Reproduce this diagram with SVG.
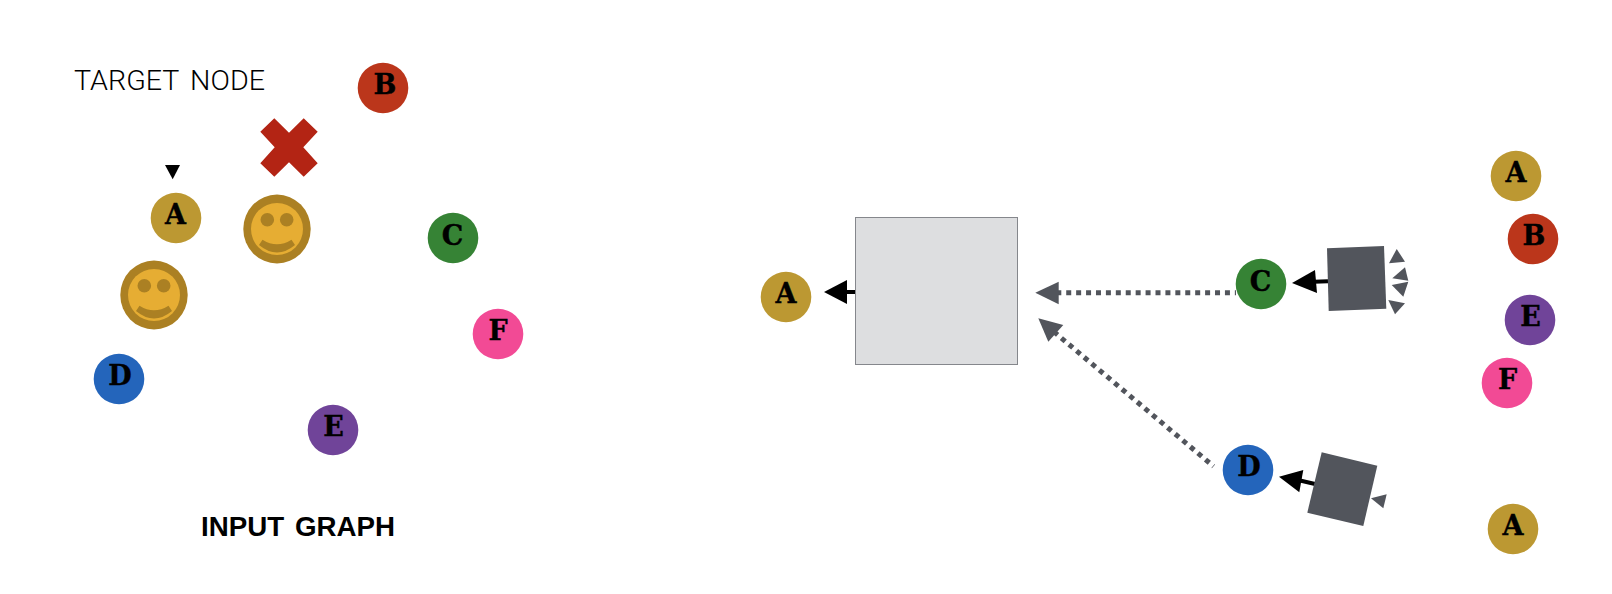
<svg xmlns="http://www.w3.org/2000/svg" width="1612" height="594" viewBox="0 0 1612 594">
<style>
.a{fill:#bc9832}.b{fill:#bb361b}.c{fill:#368335}.d{fill:#2465bb}.e{fill:#704499}.f{fill:#f24a95}
.l{font-family:"DejaVu Serif","Liberation Serif",serif;font-weight:700;font-size:27px;text-anchor:middle;fill:#000;stroke:#000;stroke-width:.4px}
.g{fill:#52555c}
.k{fill:#000}
.bar{stroke:#000;stroke-width:4;fill:none}
.dot{stroke:#52555c;stroke-width:5;stroke-dasharray:5 4.92;fill:none}
.so{fill:#ab8023}.si{fill:#e6ad33}
</style>
<defs>
<g id="smiley">
<ellipse class="so" rx="33.7" ry="34.5"/>
<circle class="si" r="26"/>
<circle class="so" cx="-9.7" cy="-9.2" r="6.8"/>
<circle class="so" cx="9.7" cy="-9.2" r="6.8"/>
<path class="so" d="M-14.5 10.7Q0 20 14.5 10.7L18 16Q0 31-18 16Z"/>
</g>
</defs>
<rect width="1612" height="594" fill="#fff"/>
<g id="labels">
<text x="74" y="90" font-family="Roboto,'Liberation Sans',sans-serif" font-weight="300" font-size="27" word-spacing="4" textLength="191" lengthAdjust="spacingAndGlyphs" fill="#000">TARGET NODE</text>
<text x="201" y="536" font-family="'Liberation Sans',Arial,sans-serif" font-weight="700" font-size="27" word-spacing="3" textLength="194" lengthAdjust="spacingAndGlyphs" fill="#000">INPUT GRAPH</text>
</g>
<g id="decor">
<polygon id="target-marker" class="k" points="165,165 180,165 172.7,179.3"/>
<polygon id="cross" fill="#b32414" points="260.3,131.7 274.3,118.3 289,132.7 303.7,118.3 317.7,131.7 303.3,147.3 317.7,163.3 303.7,176.7 289,162.3 274.3,176.7 260.3,163.3 274.7,147.3"/>
<use id="smiley-1" href="#smiley" x="277" y="229"/>
<use id="smiley-2" href="#smiley" x="154" y="295"/>
</g>
<g id="input-graph">
<g id="in-A"><circle class="a" cx="176" cy="218" r="25.3"/><text class="l" x="175.5" y="223.5">A</text></g>
<g id="in-B"><circle class="b" cx="383" cy="88" r="25.3"/><text class="l" x="385" y="93.5">B</text></g>
<g id="in-C"><circle class="c" cx="453" cy="238" r="25.3"/><text class="l" x="452.5" y="244.5">C</text></g>
<g id="in-D"><circle class="d" cx="119" cy="379" r="25.3"/><text class="l" x="120" y="384.5">D</text></g>
<g id="in-E"><circle class="e" cx="333" cy="430" r="25.3"/><text class="l" x="333.5" y="435.5">E</text></g>
<g id="in-F"><circle class="f" cx="498" cy="334" r="25.3"/><text class="l" x="498" y="339.5">F</text></g>
</g>
<g id="connectors">
<path class="dot" d="M1056.3 292.7H1236"/>
<polygon class="g" points="1035.3,292.7 1058.7,281.7 1058.7,304.3"/>
<path class="dot" d="M1053.8 331.7L1213.5 466.3"/>
<polygon class="g" points="1038.3,318.3 1063.3,325 1048.3,341.7"/>
<path class="bar" d="M845 292H856"/>
<polygon class="k" points="824,292 847,280 847,304"/>
<path class="bar" d="M1314 281.8L1328 281.2"/>
<polygon class="k" points="1292,283 1315,270 1317,293"/>
<path class="bar" d="M1300 480.5L1315 484"/>
<polygon class="k" points="1279,476.7 1303.3,470 1299.3,492.3"/>
</g>
<g id="aggregator">
<rect x="855.5" y="217.5" width="162" height="147" fill="#dddee0" stroke="#85878c" stroke-width="1"/>
</g>
<g id="mid-A"><circle class="a" cx="786" cy="297" r="25.3"/><text class="l" x="786" y="302.5">A</text></g>
<g id="mid-C"><circle class="c" cx="1261" cy="284" r="25.3"/><text class="l" x="1260.5" y="290.5">C</text></g>
<g id="mid-D"><circle class="d" cx="1248" cy="470" r="25.3"/><text class="l" x="1249" y="475.5">D</text></g>
<g id="square-C">
<polygon class="g" points="1327,248.3 1384,246 1386.3,308.7 1328.7,311"/>
<polygon class="g" points="1396.7,249 1405,261.7 1389,263.3"/>
<polygon class="g" points="1405,267.3 1408.3,280.7 1392.3,278.3"/>
<polygon class="g" points="1408.3,281.7 1403.3,296.7 1391.7,285"/>
<polygon class="g" points="1388.3,300 1405,303.3 1395,314.3"/>
</g>
<g id="square-D">
<polygon class="g" points="1321.7,452.3 1377.3,465.7 1363.3,526 1307.3,512.7"/>
<polygon class="g" points="1371,498.3 1386.7,494.3 1383.3,508.3"/>
</g>
<g id="right-A"><circle class="a" cx="1516" cy="176" r="25.3"/><text class="l" x="1516" y="181.5">A</text></g>
<g id="right-B"><circle class="b" cx="1533" cy="239" r="25.3"/><text class="l" x="1534" y="244.5">B</text></g>
<g id="right-E"><circle class="e" cx="1530" cy="320" r="25.3"/><text class="l" x="1530.5" y="325.5">E</text></g>
<g id="right-F"><circle class="f" cx="1507" cy="383" r="25.3"/><text class="l" x="1507.5" y="388.5">F</text></g>
<g id="right-A2"><circle class="a" cx="1513" cy="529" r="25.3"/><text class="l" x="1513" y="534.5">A</text></g>
</svg>
